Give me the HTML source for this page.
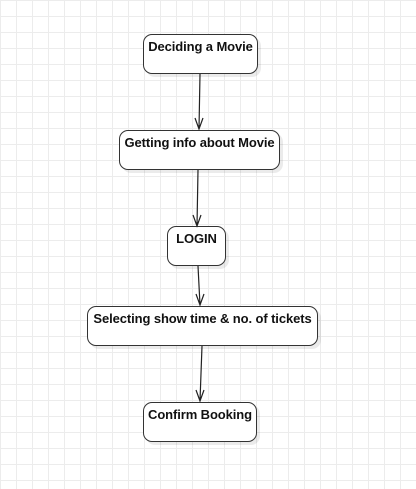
<!DOCTYPE html>
<html><head><style>
html,body{margin:0;padding:0}
body{width:416px;height:489px;position:relative;overflow:hidden;background:#fff;
background-image:linear-gradient(#ececec 1px,transparent 1px),linear-gradient(90deg,#ececec 1px,transparent 1px);
background-size:16px 16px;background-position:0 0;font-family:"Liberation Sans",sans-serif}
.b{position:absolute;box-sizing:border-box;border:1.5px solid #333;border-radius:9px;background:#fff;
box-shadow:3px 3px 0 rgba(0,0,0,0.08);text-align:center;font-weight:bold;font-size:13px;padding-top:4px;color:#111;white-space:nowrap;letter-spacing:-0.1px}
svg{position:absolute;left:0;top:0}
</style></head><body>
<div class="b" style="left:143px;top:34px;width:115px;height:40px">Deciding a Movie</div>
<div class="b" style="left:119px;top:130px;width:161px;height:40px">Getting info about Movie</div>
<div class="b" style="left:167px;top:226px;width:59px;height:40px">LOGIN</div>
<div class="b" style="left:87px;top:306px;width:231px;height:40px">Selecting show time &amp; no. of tickets</div>
<div class="b" style="left:143px;top:402px;width:114px;height:40px">Confirm Booking</div>
<svg width="416" height="489" fill="none" stroke="#222" stroke-width="1.2">
<path d="M200 74 L199 129 M195 118 L199 129 L203 118"/>
<path d="M198 170 L197 226 M193 215 L197 226 L201 215"/>
<path d="M198 266 L200 305 M196 294 L200 305 L204 294"/>
<path d="M202 346 L200 401 M196 390 L200 401 L204 390"/>
</svg>
</body></html>
